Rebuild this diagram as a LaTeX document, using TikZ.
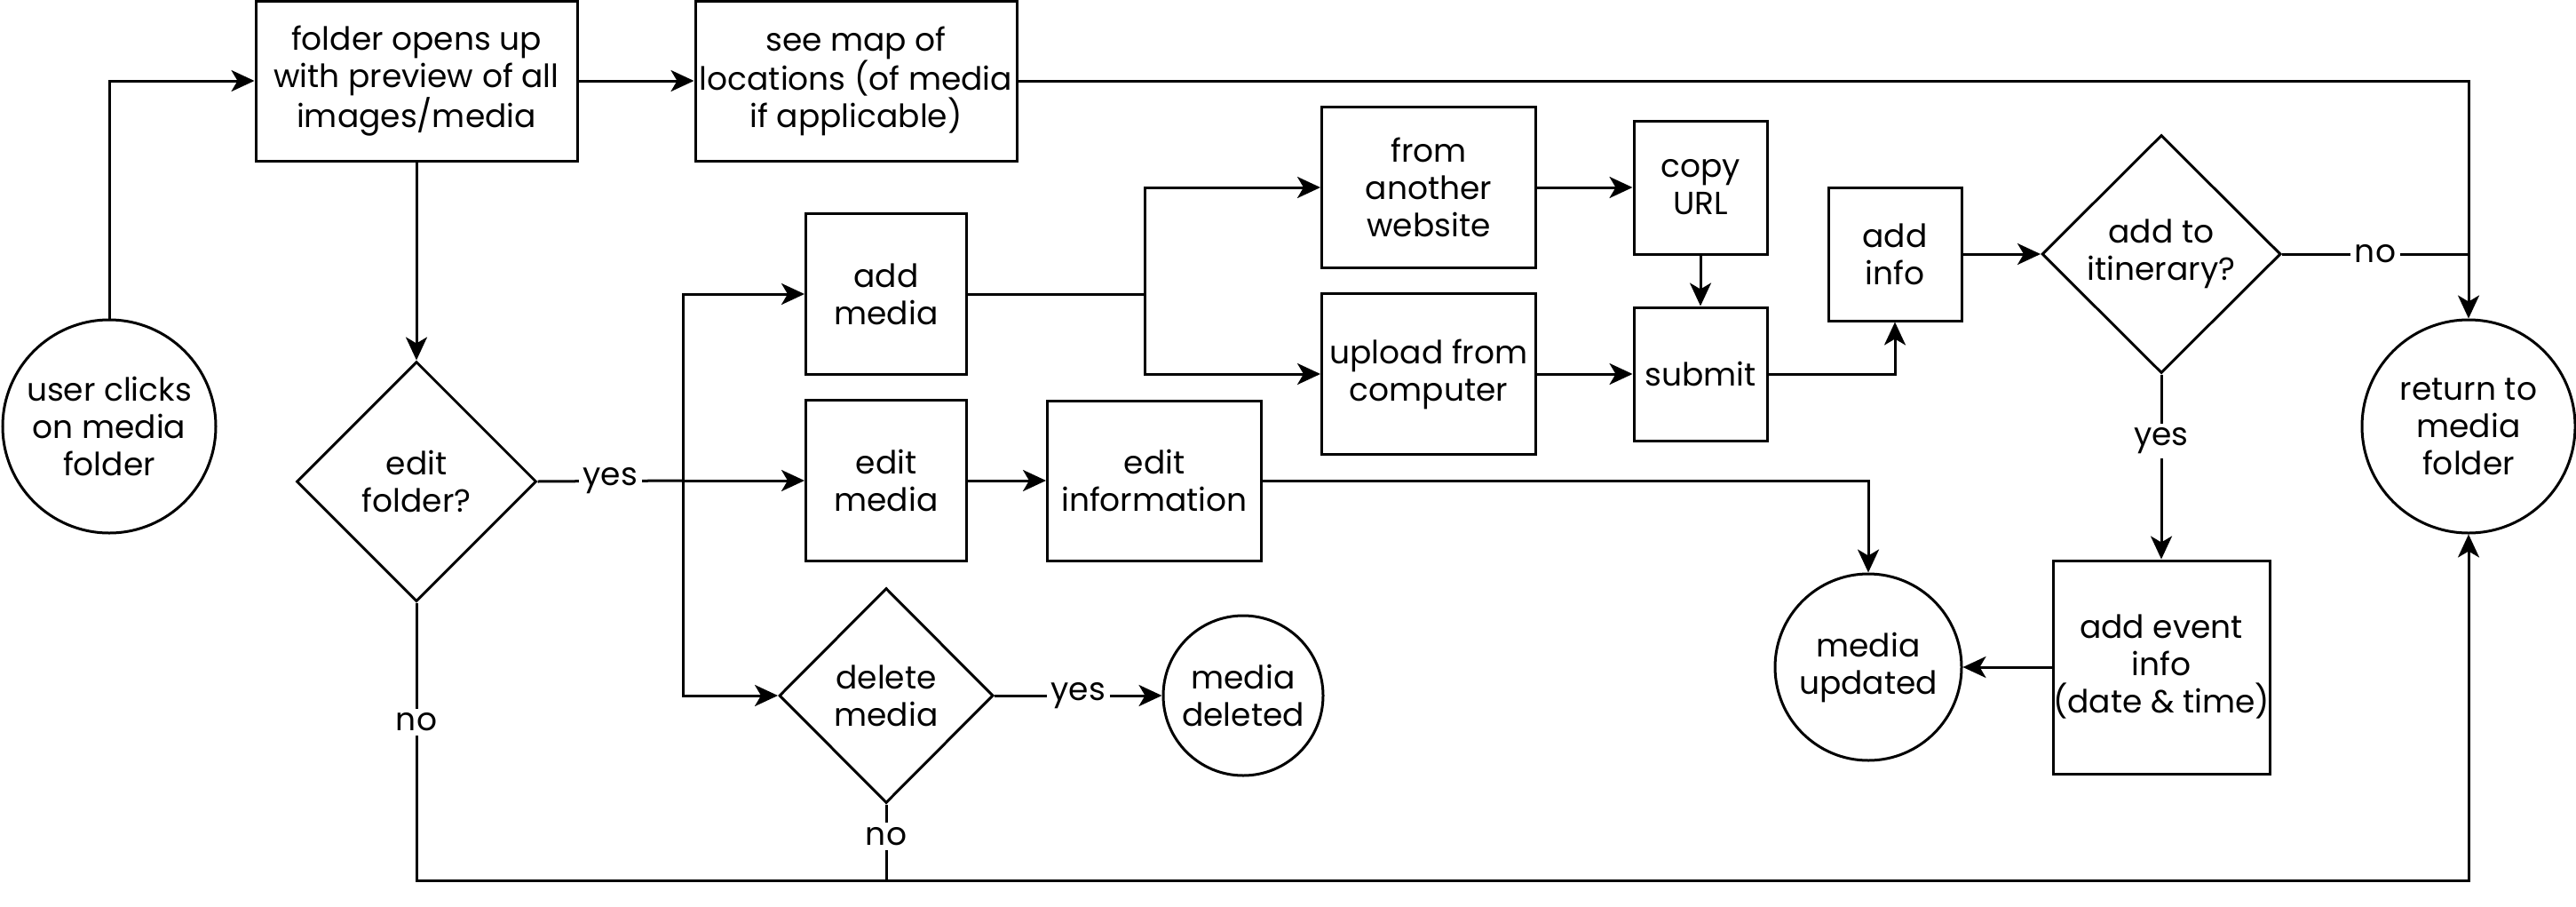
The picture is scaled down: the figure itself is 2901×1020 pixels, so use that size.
\documentclass[tikz,border=0pt]{standalone}
\usepackage{fontspec}
\setmainfont{Poppins}
\usetikzlibrary{shapes.geometric,arrows.meta}
\newcommand{\myfont}{\fontsize{36pt}{42pt}\selectfont}
\begin{document}
\begin{tikzpicture}[x=1pt,y=-1pt,line width=3pt,
  >={Stealth[length=26pt,width=24pt,inset=7pt]},
  box/.style={draw,rectangle,inner sep=0pt,align=center,font=\myfont},
  dia/.style={draw,diamond,inner sep=0pt},
  circ/.style={draw,circle,inner sep=0pt},
  txt/.style={align=center,font=\myfont},
  lbl/.style={fill=white,inner sep=5pt,font=\myfont}]
\useasboundingbox (0,0) rectangle (2901,1020);
% nodes
\node[circ,minimum size=240pt,label={[txt]center:user clicks\\on media\\folder}] (start) at (123,480) {};
\node[box,minimum width=362pt,minimum height=180pt] (folder) at (469,91) {folder opens up\\with preview of all\\images/media};
\node[box,minimum width=362pt,minimum height=180pt] (map) at (964,91) {see map of\\locations (of media\\if applicable)};
\node[dia,minimum width=270pt,minimum height=270pt,label={[txt]center:edit\\folder?}] (editf) at (469,542) {};
\node[box,minimum width=181pt,minimum height=181pt] (addm) at (998,331) {add\\media};
\node[box,minimum width=181pt,minimum height=181pt] (editm) at (998,541) {edit\\media};
\node[dia,minimum width=241pt,minimum height=242pt,label={[txt]center:delete\\media}] (delm) at (998,783) {};
\node[box,minimum width=241pt,minimum height=180pt] (edinfo) at (1300,541) {edit\\information};
\node[circ,minimum size=180pt,label={[txt]center:media\\deleted}] (mdel) at (1400,783) {};
\node[box,minimum width=241pt,minimum height=181pt] (web) at (1609,211) {from\\another\\website};
\node[box,minimum width=241pt,minimum height=181pt] (upload) at (1609,421) {upload from\\computer};
\node[box,minimum width=150pt,minimum height=150pt] (copy) at (1915,211) {copy\\URL};
\node[box,minimum width=150pt,minimum height=150pt] (submit) at (1915,421) {submit};
\node[box,minimum width=150pt,minimum height=150pt] (addinfo) at (2134,286) {add\\info};
\node[dia,minimum width=269pt,minimum height=268pt,label={[txt]center:add to\\itinerary?}] (itin) at (2434,286) {};
\node[circ,minimum size=240pt,label={[txt]center:return to\\media\\folder}] (ret) at (2780,480) {};
\node[box,minimum width=240pt,minimum height=240pt] (event) at (2434,751) {add event\\info\\(date \& time)};
\node[circ,minimum size=210pt,label={[txt]center:media\\updated}] (mupd) at (2104,751) {};
\coordinate (br) at (769,541);
\coordinate (br2) at (1289,331);
\coordinate (b1) at (469,991);
% edges
\draw[->] (start.north) |- (folder.west);
\draw[->] (folder) -- (map);
\draw[->] (map.east) -| (ret.north);
\draw[->] (folder) -- (editf);
\draw (editf.east) -- node[lbl]{yes} (br);
\draw[->] (br) -- (editm.west);
\draw[->] (br) |- (addm.west);
\draw[->] (br) |- (delm.west);
\draw[->] (editm) -- (edinfo);
\draw[->] (edinfo.east) -| (mupd.north);
\draw[->] (delm.east) -- node[lbl]{yes} (mdel.west);
\draw[->] (editf.south) -- node[lbl,pos=0.43]{no} (b1) -- (b1 -| ret.south) -- (ret.south);
\draw (delm.south) -- node[lbl,pos=0.42]{no} (delm.south |- b1);
\draw (addm.east) -- (br2);
\draw[->] (br2) |- (web.west);
\draw[->] (br2) |- (upload.west);
\draw[->] (web) -- (copy);
\draw[->] (copy) -- (submit);
\draw[->] (upload) -- (submit);
\draw[->] (submit.east) -| (addinfo.south);
\draw[->] (addinfo) -- (itin);
\draw (itin.east) -- node[lbl]{no} (itin.east -| ret.north);
\draw[->] (itin.south) -- node[lbl,pos=0.36]{yes} (event.north);
\draw[->] (event) -- (mupd);
\end{tikzpicture}
\end{document}
